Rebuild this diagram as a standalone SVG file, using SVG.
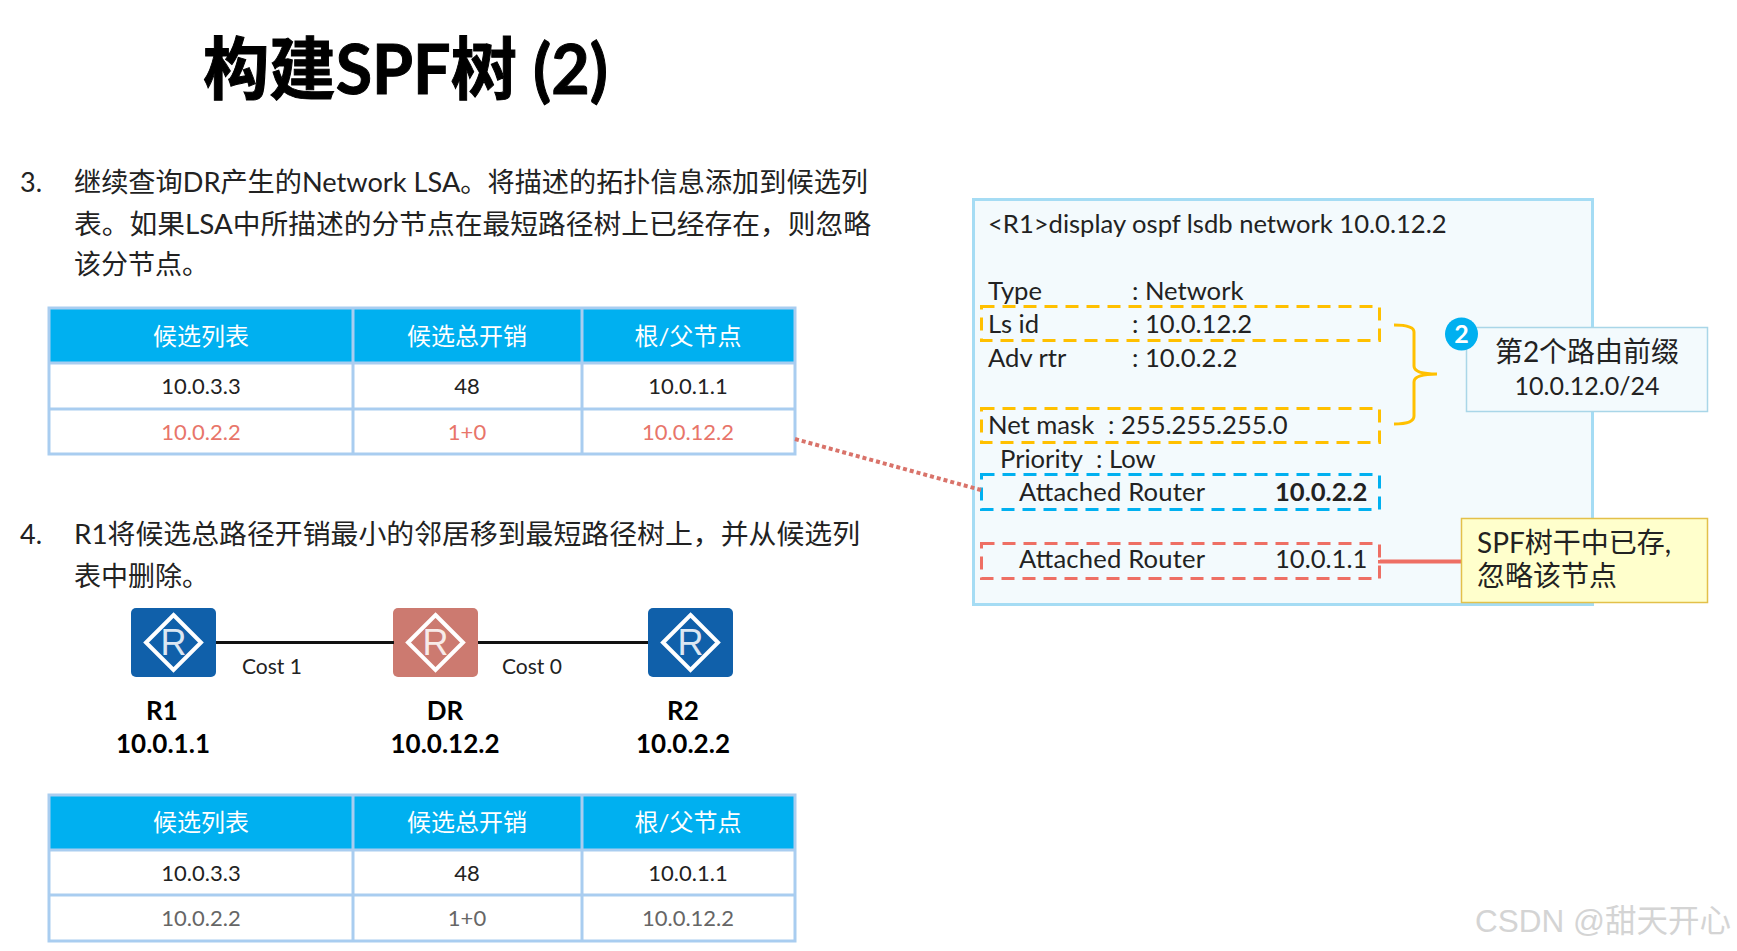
<svg xmlns="http://www.w3.org/2000/svg" width="1737" height="951" viewBox="0 0 1737 951">
<defs>
<style>
text{font-family:Lato,"Noto Sans CJK SC",sans-serif;fill:#000}
.title{font-size:68px;font-weight:700}
.b{font-size:27px;fill:#222}
.th{font-size:24px;fill:#fff;text-anchor:middle}
.td{font-size:22px;fill:#222;text-anchor:middle}
.red{fill:#e8756a}
.gr{fill:#666}
.cmd{font-size:25.600px;fill:#222}
.cl{font-size:28px;fill:#222}
.lab{font-size:26px;font-weight:700;text-anchor:middle}
.cost{font-size:21px;fill:#222}
.grid{stroke:#a9cdf0;stroke-width:3;fill:none}
.hd{fill:#00b0f0}
.dash{fill:none;stroke-width:3;stroke-dasharray:13 8}
.rt{fill:none;stroke:#fff;stroke-width:4}
.rl{font-size:36px;fill:#fff;text-anchor:middle;font-family:"Liberation Sans",sans-serif;font-weight:400;opacity:.85}
</style>
<g id="router"><path class="rt" d="M42.500 7 L70 34.500 L42.500 62 L15 34.500 Z"/><text class="rl" x="42.500" y="47">R</text></g>
</defs>
<rect width="1737" height="951" fill="#fff"/>
<g id="title"><text class="title" x="203" y="94" textLength="405" lengthAdjust="spacingAndGlyphs" stroke="#000" stroke-width="1">构建SPF树 (2)</text></g>
<g id="step3">
<text class="b" x="20" y="192">3.</text>
<text class="b" x="74" y="192" textLength="794" lengthAdjust="spacingAndGlyphs">继续查询DR产生的Network LSA。将描述的拓扑信息添加到候选列</text>
<text class="b" x="74" y="234" textLength="797" lengthAdjust="spacingAndGlyphs">表。如果LSA中所描述的分节点在最短路径树上已经存在，则忽略</text>
<text class="b" x="74" y="274">该分节点。</text>
</g>
<g id="table1">
<rect class="hd" x="49" y="308" width="746" height="55"/>
<rect x="49" y="363" width="746" height="91" fill="#fff"/>
<path class="grid" d="M49 308H795V454H49ZM49 363H795M49 409H795M353 308V454M582 308V454"/>
<text class="th" x="201" y="345">候选列表</text><text class="th" x="467" y="345">候选总开销</text><text class="th" x="688" y="345">根/父节点</text>
<text class="td" x="201" y="394">10.0.3.3</text><text class="td" x="467" y="394">48</text><text class="td" x="688" y="394">10.0.1.1</text>
<text class="td red" x="201" y="440">10.0.2.2</text><text class="td red" x="467" y="440">1+0</text><text class="td red" x="688" y="440">10.0.12.2</text>
</g>
<g id="step4">
<text class="b" x="20" y="544">4.</text>
<text class="b" x="74" y="544" textLength="786" lengthAdjust="spacingAndGlyphs">R1将候选总路径开销最小的邻居移到最短路径树上，并从候选列</text>
<text class="b" x="74" y="586">表中删除。</text>
</g>
<g id="node-r1"><rect x="131" y="608" width="85" height="69" rx="5" fill="#1060aa"/><use href="#router" x="131" y="608"/><text class="lab" x="162" y="720">R1</text><text class="lab" x="163" y="753">10.0.1.1</text></g>
<g id="node-dr"><rect x="393" y="608" width="85" height="69" rx="5" fill="#cc7a70"/><use href="#router" x="393" y="608"/><text class="lab" x="445" y="720">DR</text><text class="lab" x="445" y="753">10.0.12.2</text></g>
<g id="node-r2"><rect x="648" y="608" width="85" height="69" rx="5" fill="#1060aa"/><use href="#router" x="648" y="608"/><text class="lab" x="683" y="720">R2</text><text class="lab" x="683" y="753">10.0.2.2</text></g>
<text class="cost" x="242" y="674">Cost 1</text><text class="cost" x="502" y="674">Cost 0</text>
<g id="table2">
<rect class="hd" x="49" y="795" width="746" height="55"/>
<rect x="49" y="850" width="746" height="91" fill="#fff"/>
<path class="grid" d="M49 795H795V941H49ZM49 850H795M49 895H795M353 795V941M582 795V941"/>
<text class="th" x="201" y="831">候选列表</text><text class="th" x="467" y="831">候选总开销</text><text class="th" x="688" y="831">根/父节点</text>
<text class="td" x="201" y="881">10.0.3.3</text><text class="td" x="467" y="881">48</text><text class="td" x="688" y="881">10.0.1.1</text>
<text class="td gr" x="201" y="926">10.0.2.2</text><text class="td gr" x="467" y="926">1+0</text><text class="td gr" x="688" y="926">10.0.12.2</text>
</g>
<g id="panel">
<rect x="973.500" y="199.500" width="619" height="405" fill="#f3fafd" stroke="#a5dcf4" stroke-width="3"/>
<text class="cmd" x="988" y="233">&lt;R1&gt;display ospf lsdb network 10.0.12.2</text>
<text class="cmd" x="988" y="300">Type</text><text class="cmd" x="1132" y="300">: Network</text>
<text class="cmd" x="988" y="333">Ls id</text><text class="cmd" x="1132" y="333">: 10.0.12.2</text>
<text class="cmd" x="988" y="367">Adv rtr</text><text class="cmd" x="1132" y="367">: 10.0.2.2</text>
<text class="cmd" x="988" y="434">Net mask</text><text class="cmd" x="1108" y="434">: 255.255.255.0</text>
<text class="cmd" x="1000" y="468">Priority</text><text class="cmd" x="1096" y="468">: Low</text>
<text class="cmd" x="1019" y="501" textLength="186">Attached Router</text><text class="cmd" x="1275" y="501" style="font-weight:700">10.0.2.2</text>
<text class="cmd" x="1019" y="568" textLength="186">Attached Router</text><text class="cmd" x="1275" y="568">10.0.1.1</text>
<rect class="dash" x="981.500" y="306.500" width="398" height="34" stroke="#ffc000"/>
<rect class="dash" x="981.500" y="408.500" width="398" height="34" stroke="#ffc000"/>
<rect class="dash" x="981.500" y="474.500" width="398" height="35" stroke="#00b0f0"/>
<rect class="dash" x="981.500" y="543.500" width="398" height="35" stroke="#ee6f64"/>
</g>
<g id="connectors">
<path d="M216 642.500H394M478 642.500H648" stroke="#111" stroke-width="3" fill="none"/>
<path d="M795 439L981 490" stroke="#d9736a" stroke-width="4" stroke-dasharray="4 3" fill="none"/>
<path d="M1380 560V561.500H1462" stroke="#ee6f64" stroke-width="4" fill="none"/>
<path d="M1394 325Q1414 325 1414 332V366Q1414 374 1437 374Q1414 374 1414 382V416Q1414 424 1394 424" stroke="#ffc000" stroke-width="3" fill="none"/>
</g>
<g id="callout-prefix">
<rect x="1466.500" y="327.500" width="241" height="84" fill="#f3fafd" stroke="#a9d6e8" stroke-width="1.500"/>
<text class="cl" x="1587" y="362" text-anchor="middle">第2个路由前缀</text>
<text class="cl" x="1587" y="395" text-anchor="middle" style="font-size:25px">10.0.12.0/24</text>
<circle cx="1461.500" cy="334" r="16.500" fill="#00b0f0"/>
<text x="1461.500" y="343" font-size="25" text-anchor="middle" style="fill:#fff;font-weight:700">2</text>
</g>
<g id="callout-note">
<rect x="1461.500" y="518.500" width="246" height="84" fill="#ffffcc" stroke="#e3c04a" stroke-width="1.500"/>
<text class="cl" x="1477" y="553">SPF树干中已存,</text>
<text class="cl" x="1477" y="586">忽略该节点</text>
</g>
<text x="1475" y="932" style="font-size:31.500px;fill:#d4d4d4;font-family:'Liberation Sans','Noto Sans CJK SC',sans-serif">CSDN @甜天开心</text>
</svg>
